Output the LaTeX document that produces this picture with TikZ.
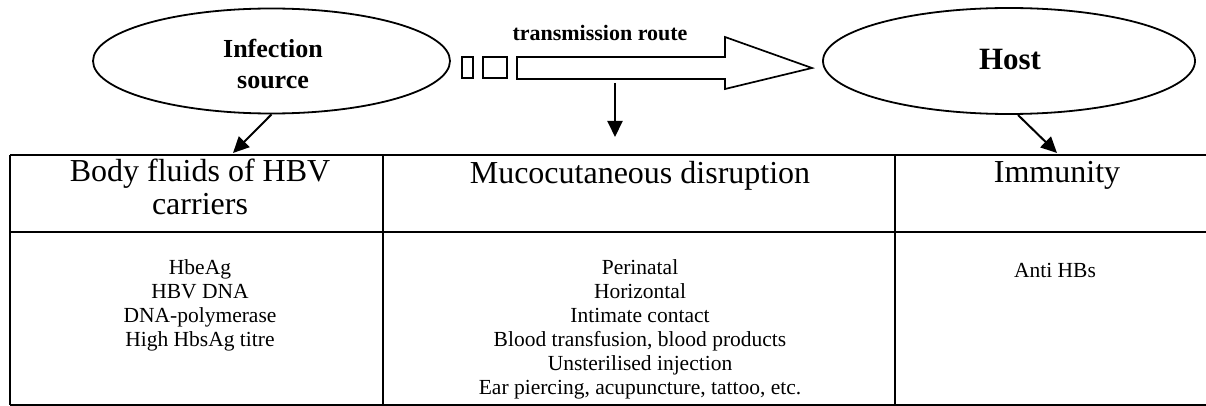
\documentclass[tikz,border=0pt]{standalone}
\usepackage{fontspec}
\setmainfont{Liberation Serif}
\usetikzlibrary{shapes.geometric,arrows.meta}
\tikzset{
  oval/.style={ellipse,draw,line width=1.8pt,inner sep=0pt},
  bigtext/.style={font=\bfseries\fontsize{26}{31}\selectfont,align=center,inner sep=0pt},
  headtext/.style={font=\fontsize{32}{33}\selectfont,align=center,inner sep=0pt},
  bodytext/.style={font=\fontsize{21.5}{24}\selectfont,align=center,inner sep=0pt},
  conn/.style={line width=2pt,-{Triangle[length=16pt,width=15pt]}},
  tbl/.style={line width=1.6pt},
  routebox/.style={line width=1.7pt}
}
\begin{document}
\begin{tikzpicture}[x=1pt,y=-1pt]
\useasboundingbox (0,0) rectangle (1206,406);
% ovals
\node[oval,minimum width=357pt,minimum height=105pt] (src) at (271.5,61) {};
\node[bigtext] (srct) at (273,64) {Infection\\source};
\node[oval,minimum width=372pt,minimum height=106pt] (host) at (1009,61) {};
\node[bigtext,font=\bfseries\fontsize{31}{33}\selectfont] (hostt) at (1010,60) {Host};
% transmission route arrow
\draw[routebox] (462,57) rectangle (473,78);
\draw[routebox] (483,57) rectangle (507,78);
\draw[routebox] (517,57) -- (725,57) -- (725,37) -- (812,68) -- (725,89) -- (725,79) -- (517,79) -- cycle;
\node[font=\bfseries\fontsize{22}{24}\selectfont,inner sep=0pt] (route) at (600,33) {transmission route};
% table
\draw[tbl] (10,155) -- (1206,155);
\draw[tbl] (10,232) -- (1206,232);
\draw[tbl] (10,405) -- (1206,405);
\draw[tbl] (10,155) -- (10,405);
\draw[tbl] (383,155) -- (383,405);
\draw[tbl] (895,155) -- (895,405);
\node[headtext] (h1) at (200,187) {Body fluids of HBV\\carriers};
\node[headtext] (h2) at (640,176) {Mucocutaneous disruption};
\node[headtext] (h3) at (1057,175) {Immunity};
\node[bodytext] (b1) at (200,305) {HbeAg\\HBV DNA\\DNA-polymerase\\High HbsAg titre};
\node[bodytext] (b2) at (640,329) {Perinatal\\Horizontal\\Intimate contact\\Blood transfusion, blood products\\Unsterilised injection\\Ear piercing, acupuncture, tattoo, etc.};
\node[bodytext] (b3) at (1055,270) {Anti HBs};
% connectors
\coordinate (a1) at (233,153);
\coordinate (s3) at (1018,115);
\coordinate (a3) at (1057,153);
\coordinate (d0) at (615,83);
\coordinate (d1) at (615,137);
\draw[conn] (src.south) -- (a1);
\draw[conn] (s3) -- (a3);
\draw[conn] (d0) -- (d1);
\end{tikzpicture}
\end{document}
